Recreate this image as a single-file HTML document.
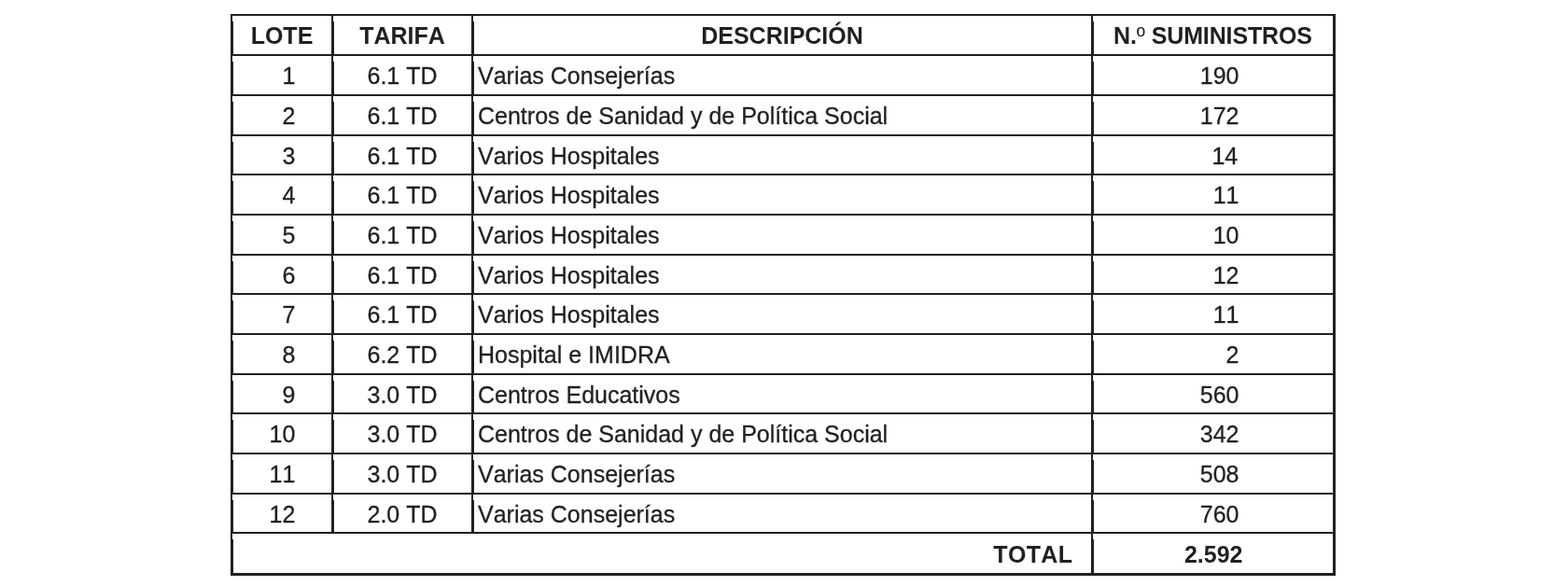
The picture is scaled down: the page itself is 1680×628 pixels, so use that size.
<!DOCTYPE html>
<html lang="es"><head><meta charset="utf-8"><title>Lotes y suministros</title>
<style>
html,body{margin:0;padding:0;background:#fff;}
body{font-kerning:none;width:1680px;height:628px;position:relative;overflow:hidden;font-family:"Liberation Sans",sans-serif;font-size:25px;color:#231f20;}
i{position:absolute;display:block;background:#231f20;}
i.g{background:#231f20;}
.t{position:absolute;white-space:nowrap;line-height:30px;height:30px;-webkit-text-stroke:0.3px #231f20;}
.b{font-weight:bold;-webkit-text-stroke:0;}
.n{letter-spacing:-0.13px;}
.c{text-align:center;}
.r{text-align:right;}
</style></head><body>

<i style="left:247px;top:17px;width:2px;height:6px"></i>
<i class="g" style="left:247px;top:23px;width:3px;height:37px"></i>
<i style="left:247px;top:60px;width:2px;height:6px"></i>
<i class="g" style="left:247px;top:66px;width:3px;height:37px"></i>
<i style="left:247px;top:103px;width:2px;height:6px"></i>
<i class="g" style="left:247px;top:109px;width:3px;height:37px"></i>
<i style="left:247px;top:146px;width:2px;height:6px"></i>
<i class="g" style="left:247px;top:152px;width:3px;height:36px"></i>
<i style="left:247px;top:188px;width:2px;height:6px"></i>
<i class="g" style="left:247px;top:194px;width:3px;height:37px"></i>
<i style="left:247px;top:231px;width:2px;height:6px"></i>
<i class="g" style="left:247px;top:237px;width:3px;height:37px"></i>
<i style="left:247px;top:274px;width:2px;height:6px"></i>
<i class="g" style="left:247px;top:280px;width:3px;height:36px"></i>
<i style="left:247px;top:316px;width:2px;height:6px"></i>
<i class="g" style="left:247px;top:322px;width:3px;height:37px"></i>
<i style="left:247px;top:359px;width:2px;height:6px"></i>
<i class="g" style="left:247px;top:365px;width:3px;height:37px"></i>
<i style="left:247px;top:402px;width:2px;height:6px"></i>
<i class="g" style="left:247px;top:408px;width:3px;height:36px"></i>
<i style="left:247px;top:444px;width:2px;height:6px"></i>
<i class="g" style="left:247px;top:450px;width:3px;height:37px"></i>
<i style="left:247px;top:487px;width:2px;height:6px"></i>
<i class="g" style="left:247px;top:493px;width:3px;height:37px"></i>
<i style="left:247px;top:530px;width:2px;height:6px"></i>
<i class="g" style="left:247px;top:536px;width:3px;height:36px"></i>
<i style="left:247px;top:572px;width:2px;height:6px"></i>
<i class="g" style="left:247px;top:578px;width:3px;height:36px"></i>
<i style="left:355px;top:17px;width:2px;height:6px"></i>
<i class="g" style="left:355px;top:23px;width:3px;height:37px"></i>
<i style="left:355px;top:60px;width:2px;height:6px"></i>
<i class="g" style="left:355px;top:66px;width:3px;height:37px"></i>
<i style="left:355px;top:103px;width:2px;height:6px"></i>
<i class="g" style="left:355px;top:109px;width:3px;height:37px"></i>
<i style="left:355px;top:146px;width:2px;height:6px"></i>
<i class="g" style="left:355px;top:152px;width:3px;height:36px"></i>
<i style="left:355px;top:188px;width:2px;height:6px"></i>
<i class="g" style="left:355px;top:194px;width:3px;height:37px"></i>
<i style="left:355px;top:231px;width:2px;height:6px"></i>
<i class="g" style="left:355px;top:237px;width:3px;height:37px"></i>
<i style="left:355px;top:274px;width:2px;height:6px"></i>
<i class="g" style="left:355px;top:280px;width:3px;height:36px"></i>
<i style="left:355px;top:316px;width:2px;height:6px"></i>
<i class="g" style="left:355px;top:322px;width:3px;height:37px"></i>
<i style="left:355px;top:359px;width:2px;height:6px"></i>
<i class="g" style="left:355px;top:365px;width:3px;height:37px"></i>
<i style="left:355px;top:402px;width:2px;height:6px"></i>
<i class="g" style="left:355px;top:408px;width:3px;height:36px"></i>
<i style="left:355px;top:444px;width:2px;height:6px"></i>
<i class="g" style="left:355px;top:450px;width:3px;height:37px"></i>
<i style="left:355px;top:487px;width:2px;height:6px"></i>
<i class="g" style="left:355px;top:493px;width:3px;height:37px"></i>
<i style="left:355px;top:530px;width:2px;height:6px"></i>
<i class="g" style="left:355px;top:536px;width:3px;height:36px"></i>
<i style="left:505px;top:17px;width:2px;height:6px"></i>
<i class="g" style="left:505px;top:23px;width:3px;height:37px"></i>
<i style="left:505px;top:60px;width:2px;height:6px"></i>
<i class="g" style="left:505px;top:66px;width:3px;height:37px"></i>
<i style="left:505px;top:103px;width:2px;height:6px"></i>
<i class="g" style="left:505px;top:109px;width:3px;height:37px"></i>
<i style="left:505px;top:146px;width:2px;height:6px"></i>
<i class="g" style="left:505px;top:152px;width:3px;height:36px"></i>
<i style="left:505px;top:188px;width:2px;height:6px"></i>
<i class="g" style="left:505px;top:194px;width:3px;height:37px"></i>
<i style="left:505px;top:231px;width:2px;height:6px"></i>
<i class="g" style="left:505px;top:237px;width:3px;height:37px"></i>
<i style="left:505px;top:274px;width:2px;height:6px"></i>
<i class="g" style="left:505px;top:280px;width:3px;height:36px"></i>
<i style="left:505px;top:316px;width:2px;height:6px"></i>
<i class="g" style="left:505px;top:322px;width:3px;height:37px"></i>
<i style="left:505px;top:359px;width:2px;height:6px"></i>
<i class="g" style="left:505px;top:365px;width:3px;height:37px"></i>
<i style="left:505px;top:402px;width:2px;height:6px"></i>
<i class="g" style="left:505px;top:408px;width:3px;height:36px"></i>
<i style="left:505px;top:444px;width:2px;height:6px"></i>
<i class="g" style="left:505px;top:450px;width:3px;height:37px"></i>
<i style="left:505px;top:487px;width:2px;height:6px"></i>
<i class="g" style="left:505px;top:493px;width:3px;height:37px"></i>
<i style="left:505px;top:530px;width:2px;height:6px"></i>
<i class="g" style="left:505px;top:536px;width:3px;height:36px"></i>
<i style="left:1169px;top:17px;width:2px;height:6px"></i>
<i class="g" style="left:1169px;top:23px;width:3px;height:37px"></i>
<i style="left:1169px;top:60px;width:2px;height:6px"></i>
<i class="g" style="left:1169px;top:66px;width:3px;height:37px"></i>
<i style="left:1169px;top:103px;width:2px;height:6px"></i>
<i class="g" style="left:1169px;top:109px;width:3px;height:37px"></i>
<i style="left:1169px;top:146px;width:2px;height:6px"></i>
<i class="g" style="left:1169px;top:152px;width:3px;height:36px"></i>
<i style="left:1169px;top:188px;width:2px;height:6px"></i>
<i class="g" style="left:1169px;top:194px;width:3px;height:37px"></i>
<i style="left:1169px;top:231px;width:2px;height:6px"></i>
<i class="g" style="left:1169px;top:237px;width:3px;height:37px"></i>
<i style="left:1169px;top:274px;width:2px;height:6px"></i>
<i class="g" style="left:1169px;top:280px;width:3px;height:36px"></i>
<i style="left:1169px;top:316px;width:2px;height:6px"></i>
<i class="g" style="left:1169px;top:322px;width:3px;height:37px"></i>
<i style="left:1169px;top:359px;width:2px;height:6px"></i>
<i class="g" style="left:1169px;top:365px;width:3px;height:37px"></i>
<i style="left:1169px;top:402px;width:2px;height:6px"></i>
<i class="g" style="left:1169px;top:408px;width:3px;height:36px"></i>
<i style="left:1169px;top:444px;width:2px;height:6px"></i>
<i class="g" style="left:1169px;top:450px;width:3px;height:37px"></i>
<i style="left:1169px;top:487px;width:2px;height:6px"></i>
<i class="g" style="left:1169px;top:493px;width:3px;height:37px"></i>
<i style="left:1169px;top:530px;width:2px;height:6px"></i>
<i class="g" style="left:1169px;top:536px;width:3px;height:36px"></i>
<i style="left:1169px;top:572px;width:2px;height:6px"></i>
<i class="g" style="left:1169px;top:578px;width:3px;height:36px"></i>
<i class="g" style="left:1428px;top:15px;width:3px;height:602px"></i>
<i style="left:247px;top:15px;width:1184px;height:2px"></i>
<i style="left:247px;top:58px;width:1184px;height:2px"></i>
<i style="left:247px;top:101px;width:1184px;height:2px"></i>
<i style="left:247px;top:144px;width:1184px;height:2px"></i>
<i style="left:247px;top:186px;width:1184px;height:2px"></i>
<i style="left:247px;top:229px;width:1184px;height:2px"></i>
<i style="left:247px;top:272px;width:1184px;height:2px"></i>
<i style="left:247px;top:314px;width:1184px;height:2px"></i>
<i style="left:247px;top:357px;width:1184px;height:2px"></i>
<i style="left:247px;top:400px;width:1184px;height:2px"></i>
<i style="left:247px;top:442px;width:1184px;height:2px"></i>
<i style="left:247px;top:485px;width:1184px;height:2px"></i>
<i style="left:247px;top:528px;width:1184px;height:2px"></i>
<i style="left:247px;top:570px;width:1184px;height:2px"></i>
<i class="g" style="left:247px;top:614px;width:1184px;height:3px"></i>
<div class="t b c" style="left:248.00px;top:23.00px;width:108.00px">LOTE</div>
<div class="t b c" style="left:356.00px;top:23.00px;width:150.00px">TARIFA</div>
<div class="t b c" style="left:506.00px;top:23.00px;width:664.00px">DESCRIPCIÓN</div>
<div class="t b c n" style="left:1170.00px;top:23.00px;width:259.00px">N.<span style="font-weight:normal">º</span> SUMINISTROS</div>
<div class="t r" style="left:248.00px;top:66.00px;width:68.30px">1</div>
<div class="t c" style="left:356.00px;top:66.00px;width:150.00px">6.1 TD</div>
<div class="t " style="left:512.00px;top:66.00px;width:650.00px">Varias Consejerías</div>
<div class="t r" style="left:1170.00px;top:66.00px;width:157.50px">190</div>
<div class="t r" style="left:248.00px;top:109.00px;width:68.30px">2</div>
<div class="t c" style="left:356.00px;top:109.00px;width:150.00px">6.1 TD</div>
<div class="t " style="left:512.00px;top:109.00px;width:650.00px">Centros de Sanidad y de Política Social</div>
<div class="t r" style="left:1170.00px;top:109.00px;width:157.50px">172</div>
<div class="t r" style="left:248.00px;top:152.00px;width:68.30px">3</div>
<div class="t c" style="left:356.00px;top:152.00px;width:150.00px">6.1 TD</div>
<div class="t " style="left:512.00px;top:152.00px;width:650.00px">Varios Hospitales</div>
<div class="t r" style="left:1168.70px;top:152.00px;width:157.50px">14</div>
<div class="t r" style="left:248.00px;top:194.00px;width:68.30px">4</div>
<div class="t c" style="left:356.00px;top:194.00px;width:150.00px">6.1 TD</div>
<div class="t " style="left:512.00px;top:194.00px;width:650.00px">Varios Hospitales</div>
<div class="t r" style="left:1170.00px;top:194.00px;width:157.50px">11</div>
<div class="t r" style="left:248.00px;top:237.00px;width:68.30px">5</div>
<div class="t c" style="left:356.00px;top:237.00px;width:150.00px">6.1 TD</div>
<div class="t " style="left:512.00px;top:237.00px;width:650.00px">Varios Hospitales</div>
<div class="t r" style="left:1170.00px;top:237.00px;width:157.50px">10</div>
<div class="t r" style="left:248.00px;top:280.00px;width:68.30px">6</div>
<div class="t c" style="left:356.00px;top:280.00px;width:150.00px">6.1 TD</div>
<div class="t " style="left:512.00px;top:280.00px;width:650.00px">Varios Hospitales</div>
<div class="t r" style="left:1170.00px;top:280.00px;width:157.50px">12</div>
<div class="t r" style="left:248.00px;top:322.00px;width:68.30px">7</div>
<div class="t c" style="left:356.00px;top:322.00px;width:150.00px">6.1 TD</div>
<div class="t " style="left:512.00px;top:322.00px;width:650.00px">Varios Hospitales</div>
<div class="t r" style="left:1170.00px;top:322.00px;width:157.50px">11</div>
<div class="t r" style="left:248.00px;top:365.00px;width:68.30px">8</div>
<div class="t c" style="left:356.00px;top:365.00px;width:150.00px">6.2 TD</div>
<div class="t " style="left:512.00px;top:365.00px;width:650.00px">Hospital e IMIDRA</div>
<div class="t r" style="left:1170.00px;top:365.00px;width:157.50px">2</div>
<div class="t r" style="left:248.00px;top:408.00px;width:68.30px">9</div>
<div class="t c" style="left:356.00px;top:408.00px;width:150.00px">3.0 TD</div>
<div class="t " style="left:512.00px;top:408.00px;width:650.00px">Centros Educativos</div>
<div class="t r" style="left:1170.00px;top:408.00px;width:157.50px">560</div>
<div class="t r" style="left:248.00px;top:450.00px;width:68.30px">10</div>
<div class="t c" style="left:356.00px;top:450.00px;width:150.00px">3.0 TD</div>
<div class="t " style="left:512.00px;top:450.00px;width:650.00px">Centros de Sanidad y de Política Social</div>
<div class="t r" style="left:1170.00px;top:450.00px;width:157.50px">342</div>
<div class="t r" style="left:248.00px;top:493.00px;width:68.30px">11</div>
<div class="t c" style="left:356.00px;top:493.00px;width:150.00px">3.0 TD</div>
<div class="t " style="left:512.00px;top:493.00px;width:650.00px">Varias Consejerías</div>
<div class="t r" style="left:1170.00px;top:493.00px;width:157.50px">508</div>
<div class="t r" style="left:248.00px;top:536.00px;width:68.30px">12</div>
<div class="t c" style="left:356.00px;top:536.00px;width:150.00px">2.0 TD</div>
<div class="t " style="left:512.00px;top:536.00px;width:650.00px">Varias Consejerías</div>
<div class="t r" style="left:1170.00px;top:536.00px;width:157.50px">760</div>
<div class="t b r" style="left:248.00px;top:579.00px;width:901.40px"><span style="letter-spacing:.35px">TOTAL</span></div>
<div class="t b r" style="left:1170.00px;top:579.00px;width:161.50px">2.592</div>
</body></html>
